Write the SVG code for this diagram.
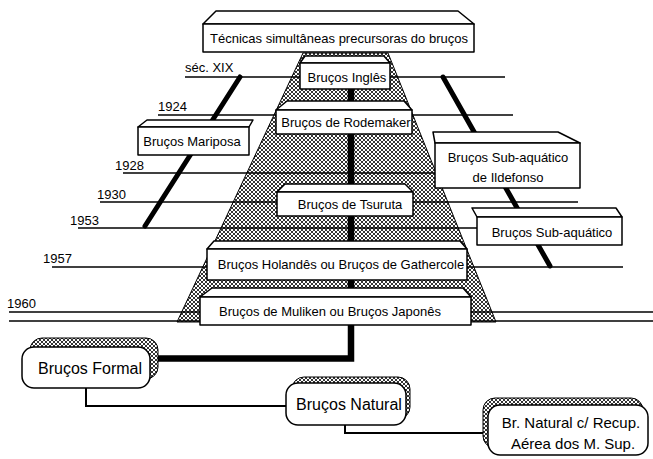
<svg xmlns="http://www.w3.org/2000/svg" width="653" height="459" viewBox="0 0 653 459">
<defs>
<pattern id="st" width="4" height="4" patternUnits="userSpaceOnUse">
<rect width="4" height="4" fill="#fff"/>
<path d="M0 0L4 4M4 0L0 4" stroke="#000" stroke-width="0.8"/>
</pattern>
<style>
text{font-family:"Liberation Sans",Arial,sans-serif;fill:#000}
.t13{font-size:13px}
.t16{font-size:16px}
.t15{font-size:15px}
.yr{font-size:13px}
.box{fill:#fff;stroke:#000;stroke-width:1.5;stroke-linejoin:round}
.tl{stroke:#000;stroke-width:1.3;fill:none}
.thick{stroke:#000;stroke-width:5;fill:none;stroke-linecap:round}
.shadow{fill:url(#st);stroke:#000;stroke-width:1}
.conn{stroke:#000;stroke-width:2;fill:none}
</style>
</defs>
<rect width="653" height="459" fill="#fff"/>

<g id="pyramid">
<polygon points="303,53 388,53 496,322 177,322" fill="url(#st)" stroke="#000" stroke-width="1"/>
</g>

<g id="timeline">
<line class="tl" x1="185" y1="77" x2="505" y2="77"/>
<line class="tl" x1="158" y1="115" x2="513" y2="115"/>
<line class="tl" x1="123" y1="173" x2="440" y2="173"/>
<line class="tl" x1="100" y1="202" x2="578" y2="202"/>
<line class="tl" x1="78" y1="228" x2="477" y2="228"/>
<line class="tl" x1="52" y1="267" x2="623" y2="267"/>
<line class="tl" x1="9" y1="312" x2="653" y2="312"/>
<line class="tl" x1="9" y1="321" x2="653" y2="321"/>
<text class="yr" x="185" y="72">séc. XIX</text>
<text class="yr" x="158" y="111">1924</text>
<text class="yr" x="115" y="170">1928</text>
<text class="yr" x="97" y="199">1930</text>
<text class="yr" x="70" y="225">1953</text>
<text class="yr" x="43" y="263">1957</text>
<text class="yr" x="7" y="308">1960</text>
<line class="thick" x1="240" y1="77" x2="145" y2="226"/>
<line class="thick" x1="443" y1="77" x2="550" y2="266"/>
</g>

<g id="connectors">
<path d="M351 88V358.5H150" stroke="#000" stroke-width="6.5" fill="none"/>
<path class="conn" d="M86 388V406H287"/>
<path class="conn" d="M345 425V433H488"/>
</g>

<g id="n-tecnicas">
<polygon class="box" points="203,24 216,11 458,11 474,24"/>
<rect class="box" x="203" y="24" width="271" height="28"/>
<text class="t13" x="339" y="43" text-anchor="middle">Técnicas simultâneas precursoras do bruços</text>
</g>

<g id="n-ingles">
<polygon class="box" points="300,63 305,56 384,56 390,63"/>
<rect class="box" x="300" y="63" width="90" height="26"/>
<text class="t13" x="347" y="82" text-anchor="middle">Bruços Inglês</text>
</g>

<g id="n-rodemaker">
<polygon class="box" points="276,110 287,101 404,101 412,110"/>
<rect class="box" x="276" y="110" width="136" height="24"/>
<text class="t13" x="346" y="127" text-anchor="middle">Bruços de Rodemaker</text>
</g>

<g id="n-mariposa">
<polygon class="box" points="138,127 147,120 253,120 249,127"/>
<rect class="box" x="138" y="127" width="111" height="28"/>
<text class="t13" x="192" y="146" text-anchor="middle">Bruços Mariposa</text>
</g>

<g id="n-ildefonso">
<polygon class="box" points="435,143 433,132 558,132 580,143"/>
<rect class="box" x="435" y="143" width="145" height="45"/>
<text class="t13" x="508" y="162" text-anchor="middle">Bruços Sub-aquático</text>
<text class="t13" x="508" y="182" text-anchor="middle">de Ildefonso</text>
</g>

<g id="n-tsuruta">
<polygon class="box" points="277,192 285,184 405,184 413,192"/>
<rect class="box" x="277" y="192" width="136" height="24"/>
<text class="t13" x="350" y="209" text-anchor="middle">Bruços de Tsuruta</text>
</g>

<g id="n-subaquatico">
<polygon class="box" points="477,217 472,208 616,208 622,217"/>
<rect class="box" x="477" y="217" width="145" height="28"/>
<text class="t13" x="552" y="237" text-anchor="middle">Bruços Sub-aquático</text>
</g>

<g id="n-holandes">
<polygon class="box" points="207,249 214,241 460,241 467,249"/>
<rect class="box" x="207" y="249" width="260" height="31"/>
<text class="t13" x="341" y="269" text-anchor="middle">Bruços Holandês ou Bruços de Gathercole</text>
</g>

<g id="n-muliken">
<polygon class="box" points="200,297 212,288 463,288 471,297"/>
<rect class="box" x="200" y="297" width="271" height="28"/>
<text class="t13" x="330" y="316" text-anchor="middle">Bruços de Muliken ou Bruços Japonês</text>
</g>

<g id="n-formal">
<rect class="shadow" x="30" y="338" width="128" height="41" rx="12"/>
<rect class="box" x="22" y="347" width="128" height="41" rx="12"/>
<text class="t16" x="90" y="374" text-anchor="middle">Bruços Formal</text>
</g>

<g id="n-natural">
<rect class="shadow" x="292" y="377" width="118" height="42" rx="12"/>
<rect class="box" x="286" y="383" width="120" height="42" rx="12"/>
<text class="t16" x="349" y="410" text-anchor="middle">Bruços Natural</text>
</g>

<g id="n-recup">
<rect class="shadow" x="483" y="398" width="160" height="50" rx="12"/>
<rect class="box" x="488" y="405" width="160" height="50" rx="12"/>
<text class="t15" x="571" y="428" text-anchor="middle">Br. Natural c/ Recup.</text>
<text class="t15" x="573" y="449" text-anchor="middle">Aérea dos M. Sup.</text>
</g>
</svg>
